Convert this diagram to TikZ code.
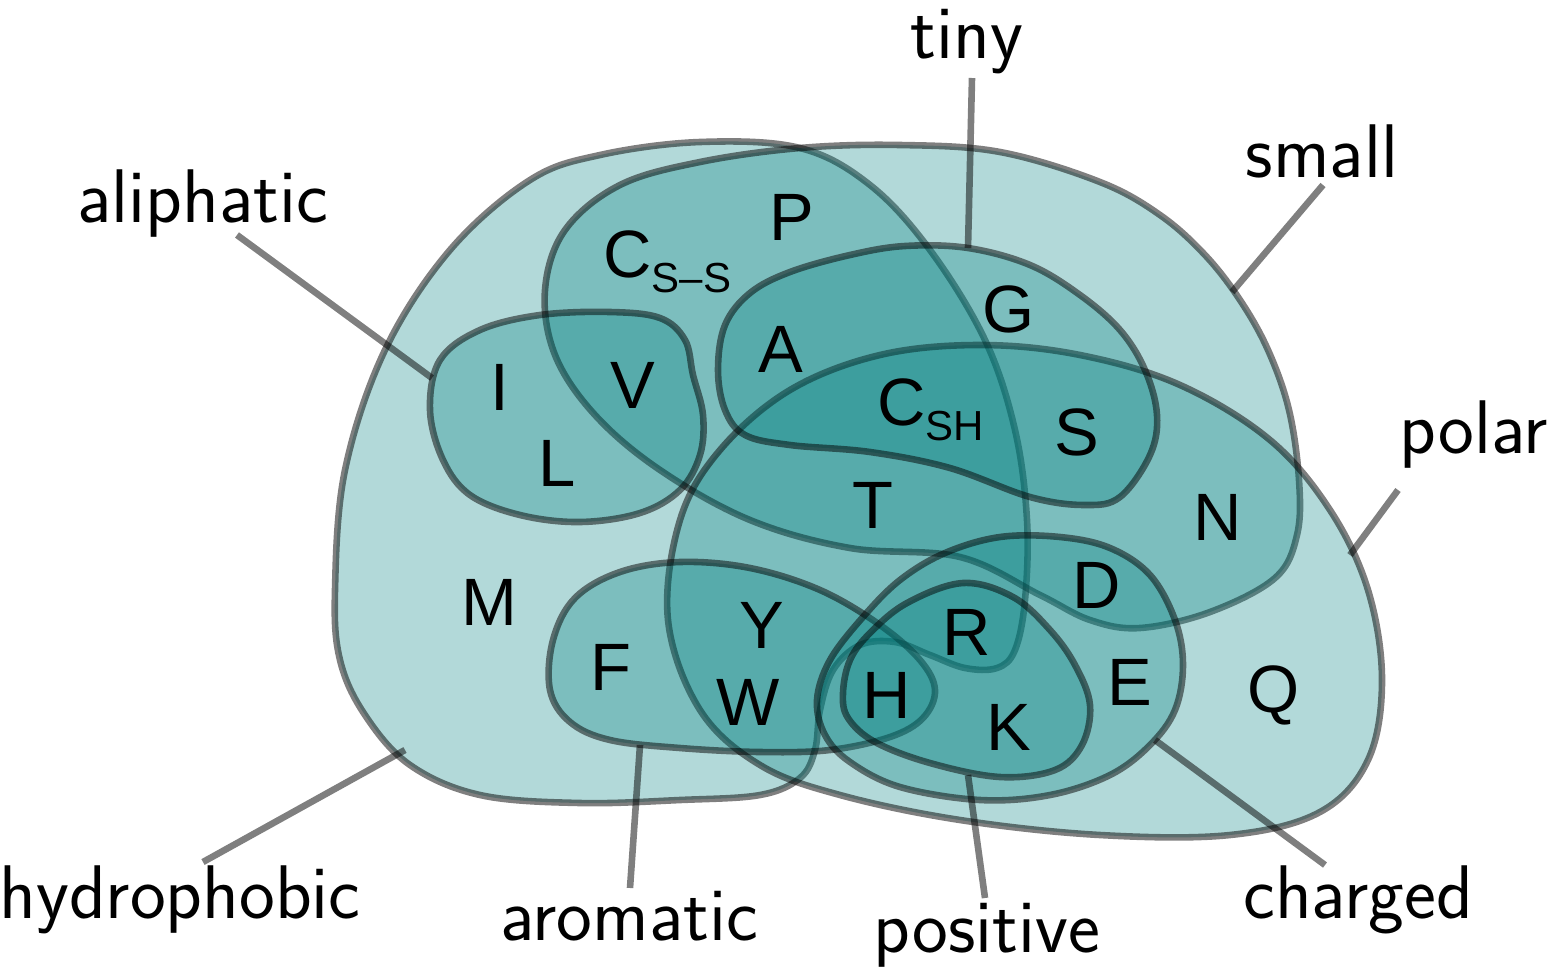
\documentclass[tikz,border=0pt]{standalone}
\usepackage{fontspec}
\newfontfamily\arialf{Liberation Sans}
\begin{document}
\begin{tikzpicture}[x=0.5pt,y=-0.5pt,
  region/.style={fill=teal, fill opacity=0.3, draw=black, draw opacity=0.5, line width=3.3pt},
  lead/.style={draw=black, draw opacity=0.5, line width=3.3pt},
  aa/.style={font=\arialf\fontsize{33.5}{40}\selectfont, inner sep=0pt, anchor=base},
  lab/.style={font=\sffamily\fontsize{38}{44}\selectfont, inner sep=0pt, anchor=base}]
\useasboundingbox (0,0) rectangle (1547,976);
% hydrophobic
\draw[region] plot[smooth cycle, tension=0.6] coordinates {
 (335,590) (345,470) (385,350) (450,250) (530,180) (600,155) (700,142) (800,148)
 (870,185) (930,250) (985,340) (1015,430) (1027,520) (1025,600) (1015,650) (997,668)
 (965,668) (930,655) (895,642) (860,645) (833,670) (820,710) (815,750) (800,778)
 (760,795) (680,800) (580,803) (480,795) (410,765) (365,715) (340,660)};
% small
\draw[region] plot[smooth cycle, tension=0.6] coordinates {
 (1160,215) (1100,182) (1000,152) (900,145) (800,148) (700,162) (620,185)
 (565,230) (545,290) (555,355) (595,415) (660,470) (750,520) (850,548) (960,557)
 (1040,595) (1090,620) (1140,628) (1210,612) (1275,578) (1297,535) (1299,480)
 (1289,410) (1268,350) (1240,300) (1205,255)};
% polar
\draw[region] plot[smooth cycle, tension=0.6] coordinates {
 (668,620) (680,520) (720,450) (790,390) (880,355) (980,345) (1080,355) (1180,385)
 (1270,440) (1330,510) (1368,590) (1382,680) (1368,760) (1320,812) (1230,835)
 (1100,835) (960,820) (840,795) (760,765) (700,710)};
% tiny
\draw[region] plot[smooth cycle, tension=0.6] coordinates {
 (968,248) (1030,265) (1080,295) (1120,330) (1145,370) (1157,415) (1150,455) (1120,497)
 (1085,505) (1030,497) (950,468) (870,452) (790,445) (745,435) (725,410) (718,370)
 (725,325) (750,293) (790,272) (850,255) (905,246)};
% aliphatic
\draw[region] plot[smooth cycle, tension=0.6] coordinates {
 (430,410) (440,360) (480,330) (540,315) (610,312) (660,318) (685,340) (693,375)
 (703,415) (700,455) (680,490) (640,513) (580,522) (520,515) (470,495) (443,460)};
% aromatic
\draw[region] plot[smooth cycle, tension=0.6] coordinates {
 (550,690) (553,640) (575,598) (620,572) (680,562) (750,568) (820,590) (880,625)
 (920,660) (935,690) (923,718) (890,737) (830,750) (760,752) (680,748) (610,740) (570,722)};
% charged
\draw[region] plot[smooth cycle, tension=0.6] coordinates {
 (1000,537) (1060,537) (1110,548) (1150,575) (1175,620) (1183,665) (1175,710) (1150,745)
 (1110,775) (1050,795) (980,800) (900,787) (850,762) (825,735) (817,700) (830,660)
 (863,617) (900,580) (945,553)};
% positive
\draw[region] plot[smooth cycle, tension=0.6] coordinates {
 (843,693) (850,660) (870,633) (907,603) (963,583) (1013,597) (1050,630) (1075,665)
 (1090,705) (1082,745) (1055,770) (1000,777) (930,763) (875,742) (848,718)};

% amino acid letters
\node[aa] (P) at (792,240) {P};
\node[aa, anchor=base west] (Css) at (603,277) {C{\fontsize{21}{25}\selectfont\raisebox{-7.5pt}{S–S}}};
\node[aa] (A) at (781,372) {A};
\node[aa] (G) at (1009,332) {G};
\node[aa] (I) at (500,410) {I};
\node[aa] (V) at (633,408) {V};
\node[aa] (L) at (557,486) {L};
\node[aa, anchor=base west] (Csh) at (877,425) {C{\fontsize{21}{25}\selectfont\raisebox{-7.5pt}{SH}}};
\node[aa] (S) at (1077,455) {S};
\node[aa] (T) at (873,528) {T};
\node[aa] (N) at (1218,540) {N};
\node[aa] (M) at (489,625) {M};
\node[aa] (D) at (1097,608) {D};
\node[aa] (Y) at (762,648) {Y};
\node[aa] (R) at (967,655) {R};
\node[aa] (F) at (611,690) {F};
\node[aa] (H) at (887,718) {H};
\node[aa] (W) at (748,725) {W};
\node[aa] (E) at (1130,705) {E};
\node[aa] (K) at (1009,750) {K};
\node[aa] (Q) at (1274,712) {Q};

% labels
\node[lab] (ltiny) at (967,58) {tiny};
\node[lab] (lsmall) at (1322,177) {small};
\node[lab] (laliph) at (203,222) {aliphatic};
\node[lab] (lpolar) at (1474,453) {polar};
\node[lab] (lhydro) at (180,918) {hydrophobic};
\node[lab] (larom) at (629,940) {aromatic};
\node[lab] (lpos) at (987,952) {positive};
\node[lab] (lchar) at (1358,918) {charged};

% connector endpoints
\coordinate (ctinyA) at (968,248);   \coordinate (ctinyB) at (972,78);
\coordinate (csmallA) at (1232,292); \coordinate (csmallB) at (1323,185);
\coordinate (caliA) at (432,378);    \coordinate (caliB) at (237,235);
\coordinate (cpolA) at (1350,555);   \coordinate (cpolB) at (1398,490);
\coordinate (chydA) at (405,750);    \coordinate (chydB) at (203,862);
\coordinate (caroA) at (640,745);    \coordinate (caroB) at (630,888);
\coordinate (cposA) at (968,775);    \coordinate (cposB) at (985,898);
\coordinate (cchaA) at (1155,740);   \coordinate (cchaB) at (1325,865);
\draw[lead] (ctinyA) -- (ctinyB);
\draw[lead] (csmallA) -- (csmallB);
\draw[lead] (caliA) -- (caliB);
\draw[lead] (cpolA) -- (cpolB);
\draw[lead] (chydA) -- (chydB);
\draw[lead] (caroA) -- (caroB);
\draw[lead] (cposA) -- (cposB);
\draw[lead] (cchaA) -- (cchaB);
\end{tikzpicture}
\end{document}
